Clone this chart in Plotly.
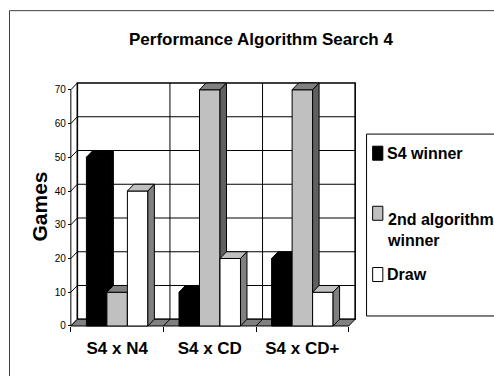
import plotly.graph_objects as go

# ---- data ----
categories = ["S4 x N4", "S4 x CD", "S4 x CD+"]
series_names = ["S4 winner", "2nd algorithm winner", "Draw"]
legend_labels = ["S4 winner", "2nd algorithm<br>winner", "Draw"]
s4_winner = [50, 10, 20]
second_winner = [10, 70, 70]
draws = [40, 20, 10]
y_ticks = [0, 10, 20, 30, 40, 50, 60, 70]
y_max = 70

series_values = [s4_winner, second_winner, draws]

# ---- styling ----
FRONT = ["#000000", "#c0c0c0", "#ffffff"]
TOP = ["#000000", "#808080", "#c0c0c0"]
SIDE = ["#000000", "#606060", "#808080"]
FLOOR = "#808080"

REG = "Liberation Sans, Arial, sans-serif"

# depth of the 3-D box, in axis units
DX, DY = 0.07, 2.0
BAR_W = 0.2213
GROUP_OFF = -0.332

# canvas geometry
W, H = 494, 376
FX, SX = 70.7, 92.7     # pixel of x=-0.5 and pixels per category
FY, SY = 326.0, 3.371   # pixel of y=0 and pixels per game
X0, X1 = -0.52, 2.5 + DX + 0.02
Y0, Y1 = -0.3, y_max + DY + 0.3
PL = FX + (X0 + 0.5) * SX
PR = FX + (X1 + 0.5) * SX
PT = FY - Y1 * SY
PB = FY - Y0 * SY


def px(x):
    return (x - PL) / (PR - PL)


def py(y):
    return (PB - y) / (PB - PT)


fig = go.Figure()


def poly(xs, ys, fill, width=1.0):
    fig.add_trace(go.Scatter(
        x=list(xs) + [xs[0]], y=list(ys) + [ys[0]], mode="lines",
        fill="toself", fillcolor=fill,
        line=dict(color="black", width=width),
        hoverinfo="skip", showlegend=False))


def segs(pairs, width=1.0, color="black"):
    xs, ys = [], []
    for (xa, ya), (xb, yb) in pairs:
        xs += [xa, xb, None]
        ys += [ya, yb, None]
    fig.add_trace(go.Scatter(x=xs, y=ys, mode="lines",
                             line=dict(color=color, width=width),
                             hoverinfo="skip", showlegend=False))


left, right = -0.5, len(categories) - 0.5
bounds = [i + 0.5 for i in range(len(categories) - 1)]

# back wall
poly([left + DX, right + DX, right + DX, left + DX],
     [DY, DY, y_max + DY, y_max + DY], "#ffffff", width=1.6)
segs([((left + DX, v + DY), (right + DX, v + DY)) for v in y_ticks[1:-1]])
segs([((b + DX, DY), (b + DX, y_max + DY)) for b in bounds])

# left wall (zero thickness): gridlines run diagonally
segs([((left, v), (left + DX, v + DY)) for v in y_ticks])
segs([((left, 0), (left, y_max))])

# floor
poly([left, right, right + DX, left + DX], [0, 0, DY, DY], FLOOR)
segs([((b, 0), (b + DX, DY)) for b in bounds])

# bars, drawn left to right so nearer faces cover hidden sides
for i in range(len(categories)):
    for j, vals in enumerate(series_values):
        v = vals[i]
        x0 = i + GROUP_OFF + j * BAR_W
        x1 = x0 + BAR_W
        poly([x0, x1, x1, x0], [0, 0, v, v], FRONT[j])
        poly([x0, x1, x1 + DX, x0 + DX], [v, v, v + DY, v + DY], TOP[j])
        poly([x1, x1 + DX, x1 + DX, x1], [0, DY, v + DY, v], SIDE[j])

shapes = []
annotations = []

# outer chart frame
shapes.append(dict(type="rect", xref="paper", yref="paper",
                   x0=px(9.3), x1=px(W + 40), y0=py(11), y1=py(H + 40),
                   line=dict(color="#404040", width=1), layer="below"))

# legend box
shapes.append(dict(type="rect", xref="paper", yref="paper",
                   x0=px(366.7), x1=px(W + 40), y0=py(134.3), y1=py(316),
                   line=dict(color="black", width=1), fillcolor="white",
                   layer="above"))
key_centers = [153.4, 213.4, 274.6]
text_centers = [153.5, 230.0, 275.0]
for j, name in enumerate(legend_labels):
    c = key_centers[j]
    shapes.append(dict(type="rect", xref="paper", yref="paper",
                       x0=px(372.8), x1=px(383), y0=py(c - 7), y1=py(c + 7),
                       line=dict(color="black", width=1),
                       fillcolor=FRONT[j], layer="above"))
    annotations.append(dict(xref="paper", yref="paper", x=px(385),
                            y=py(text_centers[j]), xanchor="left",
                            yanchor="middle", align="left", showarrow=False,
                            text=name,
                            font=dict(family=REG, size=16, color="black",
                                      weight="bold")))

# title
annotations.append(dict(xref="paper", yref="paper", x=px(261.5), y=py(40),
                        xanchor="center", yanchor="middle", showarrow=False,
                        text="Performance Algorithm Search 4",
                        font=dict(family=REG, size=17, color="black",
                                  weight="bold")))
# value axis title
annotations.append(dict(xref="paper", yref="paper", x=px(39), y=py(206.5),
                        xanchor="center", yanchor="middle", showarrow=False,
                        textangle=-90, text="Games",
                        font=dict(family=REG, size=21, color="black",
                                  weight="bold")))

fig.update_layout(
    width=W, height=H,
    margin=dict(l=PL, r=W - PR, t=PT, b=H - PB, pad=0),
    paper_bgcolor="white", plot_bgcolor="rgba(0,0,0,0)",
    showlegend=False,
    shapes=shapes, annotations=annotations,
    xaxis=dict(range=[X0, X1], anchor="free", position=py(FY),
               tickmode="array", tickvals=list(range(len(categories))),
               ticktext=categories, ticks="", showgrid=False,
               zeroline=False, showline=False, ticklabelstandoff=10,
               tickfont=dict(family=REG, size=17, color="black",
                             weight="bold"),
               minor=dict(tickmode="array",
                          tickvals=[left + k for k in range(len(categories) + 1)],
                          ticks="outside", ticklen=5, tickcolor="black",
                          tickwidth=1, showgrid=False)),
    yaxis=dict(range=[Y0, Y1], anchor="free", position=px(FX),
               tickmode="array", tickvals=y_ticks, ticks="outside",
               ticklen=3, tickcolor="black", tickwidth=1, showgrid=False,
               zeroline=False, showline=False,
               tickfont=dict(family=REG, size=10, color="black")),
)

fig.write_html("out.html")
